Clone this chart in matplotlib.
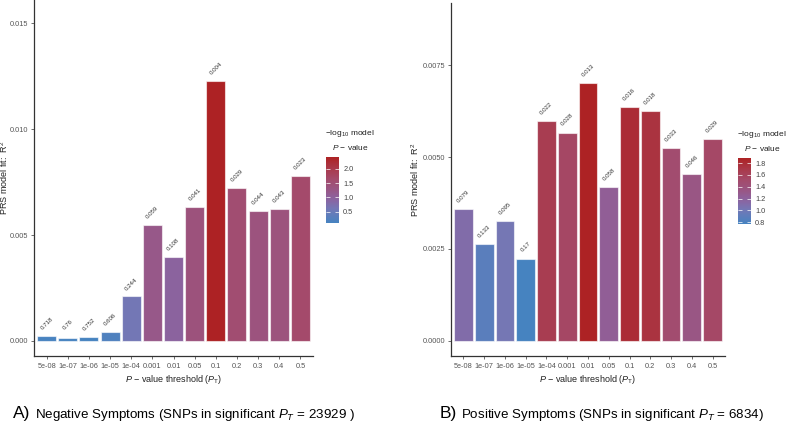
import numpy as np
import matplotlib
matplotlib.use("Agg")
from matplotlib import pyplot as plt
from matplotlib.colors import LinearSegmentedColormap, Normalize
from matplotlib.cm import ScalarMappable

plt.rcParams['font.family'] = ['Liberation Sans', 'DejaVu Sans']
plt.rcParams['mathtext.fontset'] = 'custom'
plt.rcParams['mathtext.rm'] = 'Liberation Sans'
plt.rcParams['mathtext.it'] = 'Liberation Sans:italic'

thresholds = ["5e-08", "1e-07", "1e-06", "1e-05", "1e-04", "0.001", "0.01",
              "0.05", "0.1", "0.2", "0.3", "0.4", "0.5"]

# A) negative symptoms
neg_r2 = [0.00024, 0.00016, 0.00019, 0.00042, 0.0021, 0.00546, 0.00396,
          0.00632, 0.01226, 0.00722, 0.00615, 0.00624, 0.0078]
neg_p = ["0.718", "0.76", "0.752", "0.606", "0.244", "0.059", "0.108",
         "0.041", "0.004", "0.029", "0.044", "0.043", "0.023"]

# B) positive symptoms
pos_r2 = [0.00359, 0.00264, 0.00326, 0.00222, 0.00599, 0.00567, 0.00703,
          0.00418, 0.00636, 0.00625, 0.00524, 0.00453, 0.00549]
pos_p = ["0.079", "0.133", "0.095", "0.17", "0.022", "0.028", "0.013",
         "0.058", "0.016", "0.018", "0.033", "0.046", "0.029"]

# blue -> purple -> red gradient, colours
grad = [(0.0, "#4683c0"), (0.12, "#5f7dbb"), (0.22, "#7477b5"),
        (0.32, "#8569a6"), (0.42, "#915e96"), (0.52, "#9a5582"),
        (0.67, "#a44a6a"), (0.82, "#a93a4c"), (1.0, "#ad2224")]
cmap = LinearSegmentedColormap.from_list("bluered", grad)

fig = plt.figure(figsize=(7.86, 4.24), dpi=100)


def panel(rect, r2, pvals, ylim, yticks, yfmt, ylab_x, cbar_rect, cticks, ctitle_x):
    ax = fig.add_axes(rect)
    logp = -np.log10(np.array([float(p) for p in pvals]))
    norm = Normalize(logp.min(), logp.max())
    x = np.arange(len(thresholds))
    ax.bar(x, r2, width=0.9, color=cmap(norm(logp)),
           edgecolor=(1, 1, 1, 0.6), linewidth=0.8)
    for xi, yi, lab in zip(x, r2, pvals):
        ax.annotate(lab, (xi, yi), xytext=(0, 9), textcoords="offset points",
                    ha="center", va="center", rotation=45, fontsize=4.4,
                    color="#333333")
    ax.set_xlim(-0.6, 12.6)
    ax.set_ylim(*ylim)
    ax.set_xticks(x)
    ax.set_xticklabels(thresholds)
    ax.set_yticks(yticks)
    ax.set_yticklabels([yfmt.format(v) for v in yticks])
    for s in ["top", "right"]:
        ax.spines[s].set_visible(False)
    for s in ["left", "bottom"]:
        ax.spines[s].set_color("#333333")
        ax.spines[s].set_linewidth(0.9)
    ax.tick_params(labelsize=5.3, colors="#555555", length=2.2, width=0.6, pad=2)
    ax.tick_params(axis="x", pad=3)
    ax.set_xlabel(r"$P$ $-$ value threshold ($P_{\mathrm{T}}$)", fontsize=6.5,
                  color="#222222", labelpad=2)
    ax.set_ylabel(r"PRS model fit:  R$^2$", fontsize=6.5, color="#222222")
    ax.yaxis.set_label_coords(ylab_x, 0.5)

    cax = fig.add_axes(cbar_rect)
    cb = fig.colorbar(ScalarMappable(norm=norm, cmap=cmap), cax=cax, ticks=cticks)
    cb.outline.set_visible(False)
    cax.tick_params(labelsize=5.3, colors="white", length=3, width=0.5,
                    direction="in", pad=3, labelcolor="#444444",
                    left=True, right=True)
    cax.set_yticklabels(["{:.1f}".format(t) for t in cticks])
    top = cbar_rect[1] + cbar_rect[3]
    fig.text(ctitle_x, top + 0.055, r"$\mathrm{-log_{10}}$ model", fontsize=6,
             ha="center", va="center", color="#222222")
    fig.text(ctitle_x, top + 0.022, r"$P$ $-$ value", fontsize=6,
             ha="center", va="center", color="#222222")
    return ax


panel([34 / 786, 68 / 424, 279 / 786, 356 / 424], neg_r2, neg_p,
      (-0.00071, 0.0161), [0.0, 0.005, 0.010, 0.015], "{:.3f}", -0.085,
      [326 / 786, 201 / 424, 13 / 786, 66 / 424], [0.5, 1.0, 1.5, 2.0], 350 / 786)

panel([451 / 786, 68 / 424, 274 / 786, 353 / 424], pos_r2, pos_p,
      (-0.00042, 0.0092), [0.0, 0.0025, 0.0050, 0.0075], "{:.4f}", -0.11,
      [738 / 786, 200 / 424, 13 / 786, 66 / 424],
      [0.8, 1.0, 1.2, 1.4, 1.6, 1.8], 762 / 786)

cap = ['Liberation Sans Narrow', 'Liberation Sans', 'DejaVu Sans']
fig.text(13 / 786, 6 / 424, "A)", fontsize=12.5, family=cap, va="baseline")
fig.text(35 / 786, 6 / 424,
         r"Negative Symptoms (SNPs in significant $P_T$ = 23929 )",
         fontsize=9.6, family=cap, va="baseline")
fig.text(440 / 786, 6 / 424, "B)", fontsize=12.5, family=cap, va="baseline")
fig.text(461 / 786, 6 / 424,
         r"Positive Symptoms (SNPs in significant $P_T$ = 6834)",
         fontsize=9.6, family=cap, va="baseline")

fig.savefig("out.png", dpi=100)
